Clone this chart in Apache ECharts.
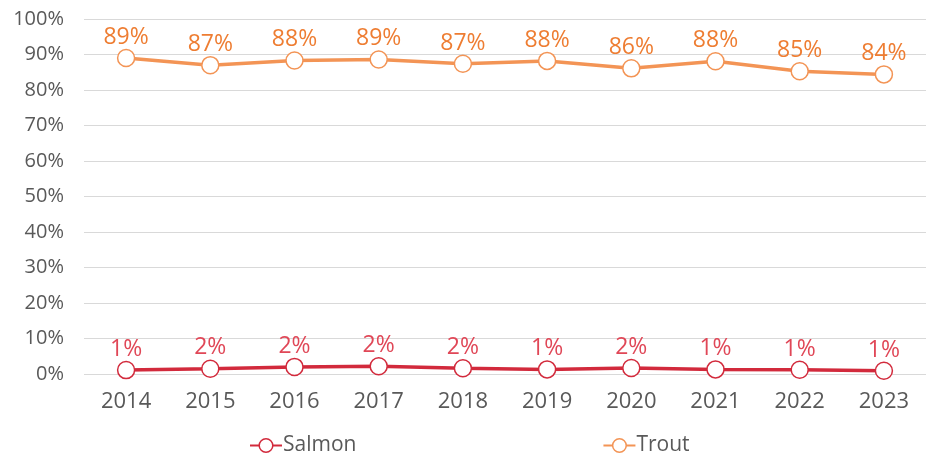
<!DOCTYPE html>
<html><head><meta charset="utf-8">
<script src="https://cdn.jsdelivr.net/npm/echarts@6/dist/echarts.min.js"></script>
<style>html,body{margin:0;padding:0;background:#fff}#c{width:926px;height:456px}</style>
</head><body><div id="c"></div>
<script>
const years = ['2014','2015','2016','2017','2018','2019','2020','2021','2022','2023'];
const salmon = [1.1, 1.5, 2.0, 2.2, 1.6, 1.3, 1.7, 1.3, 1.2, 0.9];
const trout = [89.0, 87.0, 88.3, 88.6, 87.4, 88.2, 86.1, 88.1, 85.3, 84.4];
const yTicks = [0,10,20,30,40,50,60,70,80,90,100];

const FONT = '"Open Sans", "DejaVu Sans", sans-serif';
const chart = echarts.init(document.getElementById('c'));
function mk(name, data, lineColor, labelColor) {
  return {
    name, type: 'line', data,
    symbol: 'circle', symbolSize: 17,
    itemStyle: { color: '#fff', borderColor: lineColor, borderWidth: 1.5 },
    lineStyle: { color: lineColor, width: 3.5 },
    label: { show: true, position: 'top', distance: 0, color: labelColor, fontSize: 23, fontFamily: FONT,
      formatter: p => Math.round(p.value) + '%' },
    emphasis: { disabled: true },
    animation: false
  };
}
chart.setOption({
  animation: false,
  grid: { left: 84, right: -2, top: 19, bottom: 82, containLabel: false },
  legend: {
    bottom: -5, left: 244, itemGap: 246, itemWidth: 32, itemHeight: 17, itemStyle: {borderWidth: 1.5},
    textStyle: { color: '#595959', fontSize: 21, fontFamily: FONT, padding: [0,0,0,-4] },
    data: ['Salmon','Trout']
  },
  xAxis: {
    type: 'category', data: years, boundaryGap: true,
    axisLine: { show: false }, axisTick: { show: false },
    axisLabel: { color: '#595959', fontSize: 22, fontFamily: FONT, margin: 17 }
  },
  yAxis: {
    type: 'value', min: 0, max: 100, interval: 10,
    axisLabel: { color: '#595959', fontSize: 20, fontFamily: FONT, margin: 20,
      formatter: v => yTicks.includes(v) ? v + '%' : '' },
    splitLine: { lineStyle: { color: '#d9d9d9', width: 1 } },
    axisLine: { show: false }, axisTick: { show: false }
  },
  series: [
    mk('Salmon', salmon, '#D22A3C', '#E04757'),
    mk('Trout', trout, '#F39455', '#EE7D32')
  ]
});
</script></body></html>
